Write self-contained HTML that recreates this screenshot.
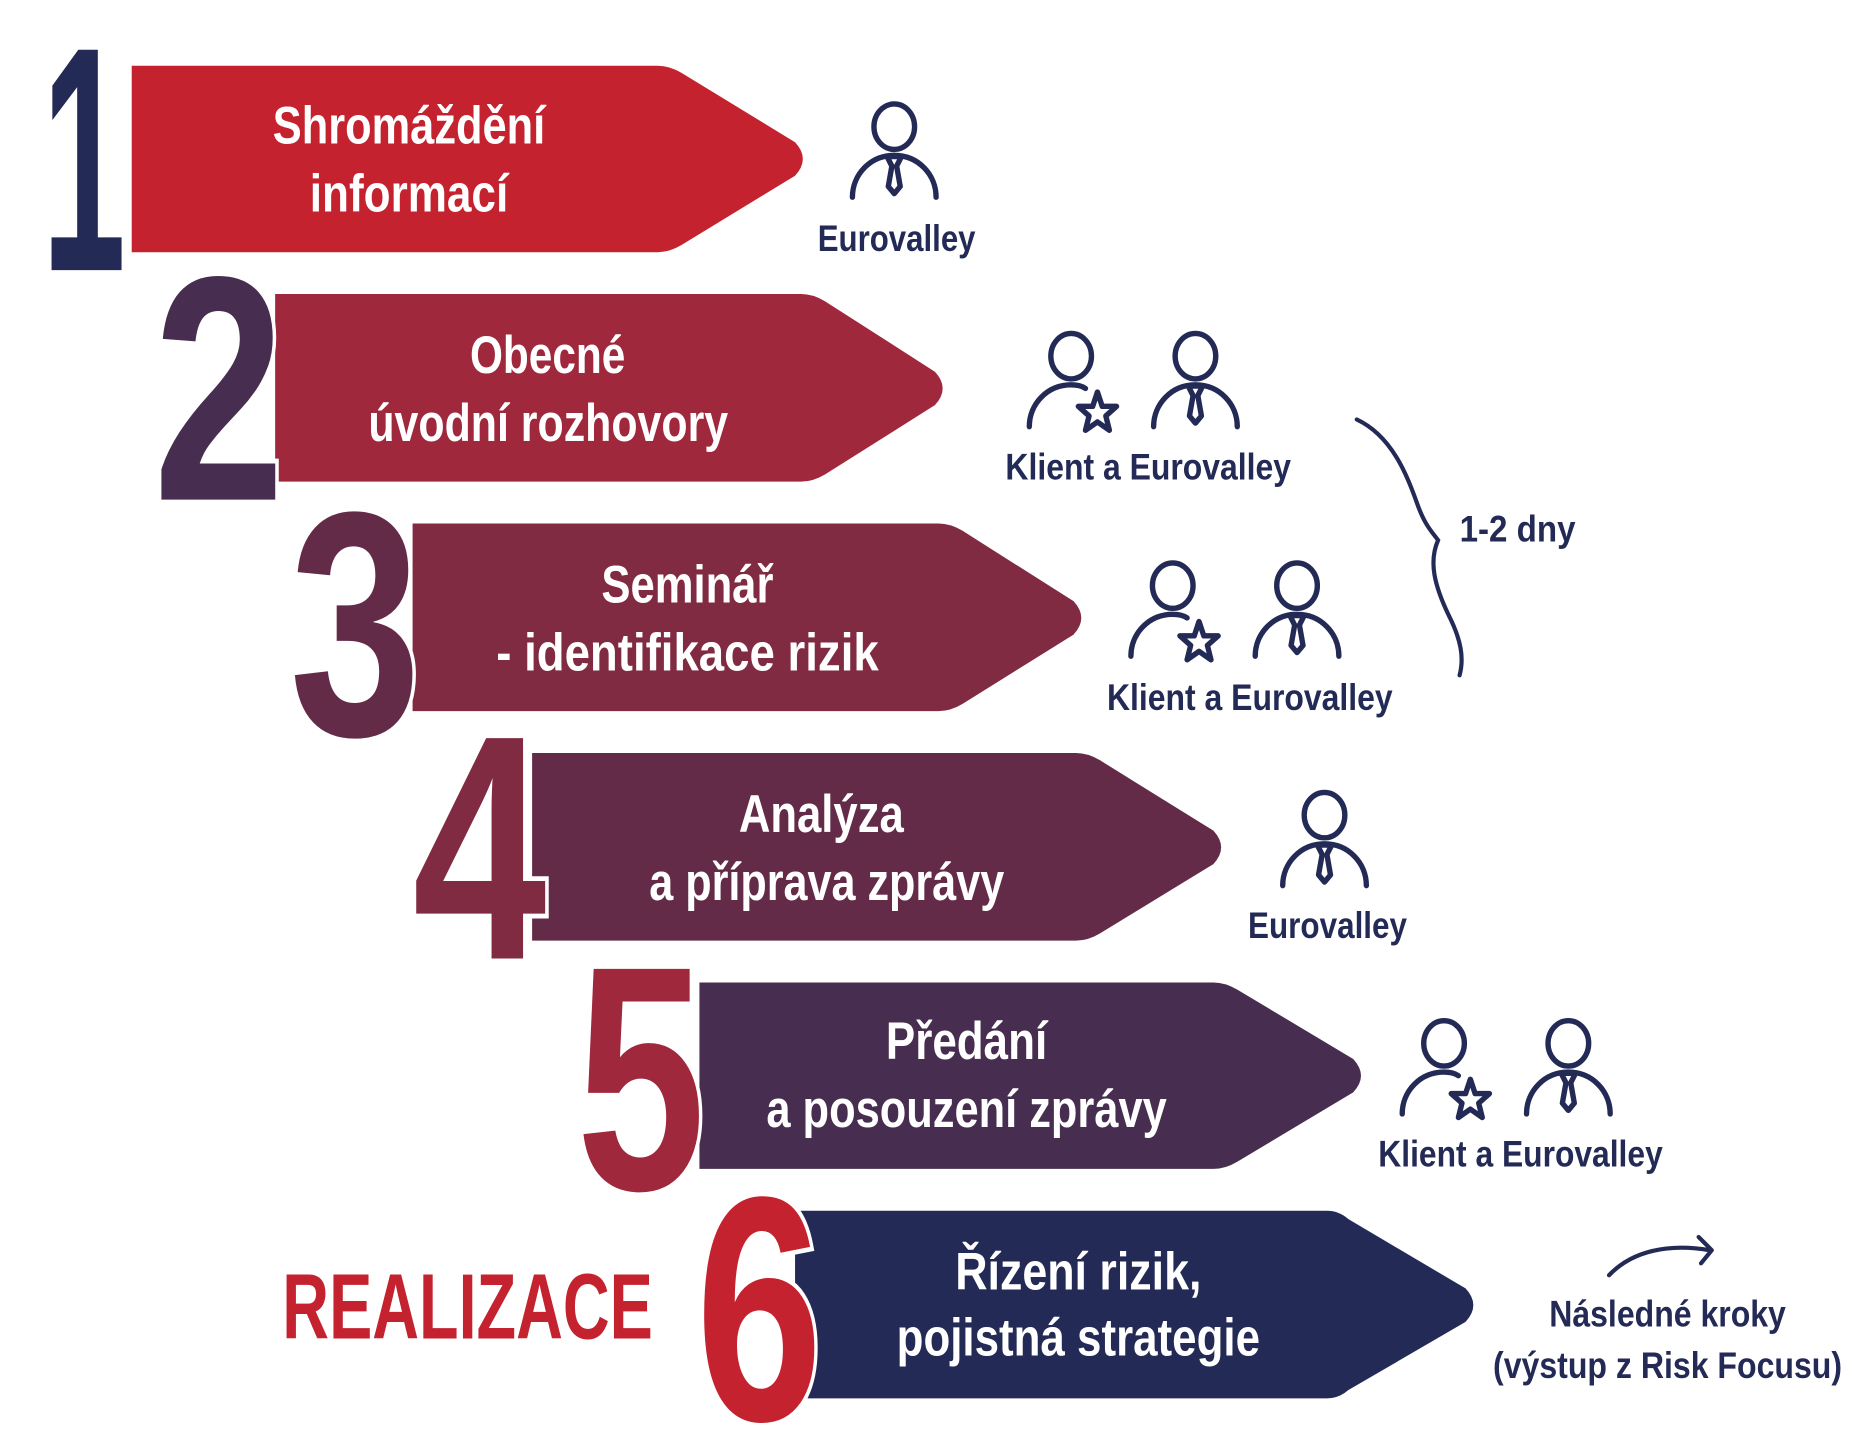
<!DOCTYPE html>
<html><head><meta charset="utf-8"><style>html,body{margin:0;padding:0;background:#fff}svg{display:block}</style></head>
<body>
<svg width="1865" height="1445" viewBox="0 0 1560 1209" xmlns="http://www.w3.org/2000/svg" font-family="'Liberation Sans', sans-serif" font-weight="bold">
<defs>
<g id="suit" fill="none" stroke="#232a55" stroke-width="4.5" stroke-linecap="round" stroke-linejoin="round">
<ellipse cx="0" cy="0" rx="17" ry="19"/>
<path d="M-35,59 C-35,40 -20,24 0,24 C20,24 35,40 35,59"/>
<path d="M-6,25 L6,25 L2,33 L5,50 L0,56 L-5,50 L-2,33 Z"/>
</g>
<g id="star" fill="none" stroke="#232a55" stroke-width="4.5" stroke-linecap="round" stroke-linejoin="round">
<ellipse cx="0" cy="0" rx="17" ry="19"/>
<path d="M-35,59 C-35,40 -20,24 0,24 C5,24 9,25 12,27"/>
<path d="M22,30 L26,42 L38,42 L29,50 L32,62 L22,55 L12,62 L15,50 L6,42 L18,42 Z"/>
</g>
</defs>
<!-- arrows -->
<path d="M110,55 H550 Q560,55 570,61 L665,119 Q678,133 665,147 L570,205 Q560,211 550,211 H110 Z" fill="#c4222f"/>
<path d="M230,246 H670 Q680,246 690,252 L782,311 Q795,325 782,339 L690,397 Q680,403 670,403 H230 Z" fill="#a0283d"/>
<path d="M345,438 H785 Q795,438 805,444 L898,503 Q911,517 898,531 L805,589 Q795,595 785,595 H345 Z" fill="#812b42"/>
<path d="M445,630 H900 Q910,630 920,636 L1015,695 Q1028,709 1015,723 L920,781 Q910,787 900,787 H445 Z" fill="#632b48"/>
<path d="M585,822 H1015 Q1025,822 1035,828 L1132,886 Q1145,900 1132,914 L1035,972 Q1025,978 1015,978 H585 Z" fill="#472d4f"/>
<path d="M665,1013 H1110 Q1120,1013 1128,1020 L1226,1078 Q1239,1092 1226,1106 L1128,1163 Q1120,1170 1110,1170 H665 Z" fill="#232a55"/>
<!-- numbers -->
<g font-size="268" paint-order="stroke" stroke="#fff" stroke-width="8" stroke-linejoin="miter">
<text x="35" y="226" textLength="70" lengthAdjust="spacingAndGlyphs" fill="#232a55" stroke="none">1</text>
<text x="128" y="418" textLength="110" lengthAdjust="spacingAndGlyphs" fill="#472d4f">2</text>
<text x="242" y="615" textLength="110" lengthAdjust="spacingAndGlyphs" fill="#632b48">3</text>
<text x="345" y="802" textLength="112" lengthAdjust="spacingAndGlyphs" fill="#812b42">4</text>
<text x="482" y="995" textLength="108" lengthAdjust="spacingAndGlyphs" fill="#a0283d">5</text>
<text x="582" y="1188" textLength="106" lengthAdjust="spacingAndGlyphs" fill="#c4222f">6</text>
</g>
<!-- arrow texts -->
<g fill="#fff" font-size="44">
<text x="228" y="120" textLength="228" lengthAdjust="spacingAndGlyphs">Shromáždění</text>
<text x="259" y="177" textLength="166" lengthAdjust="spacingAndGlyphs">informací</text>
<text x="393" y="312" textLength="130" lengthAdjust="spacingAndGlyphs">Obecné</text>
<text x="308" y="369" textLength="301" lengthAdjust="spacingAndGlyphs">úvodní rozhovory</text>
<text x="503" y="504" textLength="144" lengthAdjust="spacingAndGlyphs">Seminář</text>
<text x="415" y="561" textLength="320" lengthAdjust="spacingAndGlyphs">- identifikace rizik</text>
<text x="618" y="696" textLength="138" lengthAdjust="spacingAndGlyphs">Analýza</text>
<text x="543" y="753" textLength="297" lengthAdjust="spacingAndGlyphs">a příprava zprávy</text>
<text x="741" y="886" textLength="135" lengthAdjust="spacingAndGlyphs">Předání</text>
<text x="641" y="943" textLength="335" lengthAdjust="spacingAndGlyphs">a posouzení zprávy</text>
<text x="799" y="1079" textLength="206" lengthAdjust="spacingAndGlyphs">Řízení rizik,</text>
<text x="750" y="1134" textLength="304" lengthAdjust="spacingAndGlyphs">pojistná strategie</text>
</g>
<text x="236" y="1120" font-size="78" fill="#c4222f" textLength="310" lengthAdjust="spacingAndGlyphs">REALIZACE</text>
<!-- icons -->
<use href="#suit" x="748" y="106"/>
<use href="#star" x="896" y="298"/><use href="#suit" x="1000" y="298"/>
<use href="#star" x="981" y="490"/><use href="#suit" x="1085" y="490"/>
<use href="#suit" x="1108" y="682"/>
<use href="#star" x="1208" y="873"/><use href="#suit" x="1312" y="873"/>
<g fill="#232a55" font-size="31">
<text x="684" y="210" textLength="132" lengthAdjust="spacingAndGlyphs">Eurovalley</text>
<text x="841" y="401" textLength="239" lengthAdjust="spacingAndGlyphs">Klient a Eurovalley</text>
<text x="926" y="594" textLength="239" lengthAdjust="spacingAndGlyphs">Klient a Eurovalley</text>
<text x="1044" y="785" textLength="133" lengthAdjust="spacingAndGlyphs">Eurovalley</text>
<text x="1153" y="976" textLength="238" lengthAdjust="spacingAndGlyphs">Klient a Eurovalley</text>
<text x="1221" y="453" textLength="97" lengthAdjust="spacingAndGlyphs">1-2 dny</text>
<text x="1296" y="1110" textLength="198" lengthAdjust="spacingAndGlyphs">Následné kroky</text>
<text x="1249" y="1153" textLength="292" lengthAdjust="spacingAndGlyphs">(výstup z Risk Focusu)</text>
</g>
<path d="M1135,351 C1165,365 1178,400 1185,420 C1192,440 1198,445 1203,452 C1195,470 1200,490 1212,515 C1222,535 1225,550 1221,565" fill="none" stroke="#232a55" stroke-width="3.5" stroke-linecap="round"/>
<path d="M1346,1067 C1365,1047 1395,1040 1430,1046 M1421,1035 L1432,1046 L1423,1057" fill="none" stroke="#232a55" stroke-width="3.5" stroke-linecap="round" stroke-linejoin="round"/>
</svg>
</body></html>
